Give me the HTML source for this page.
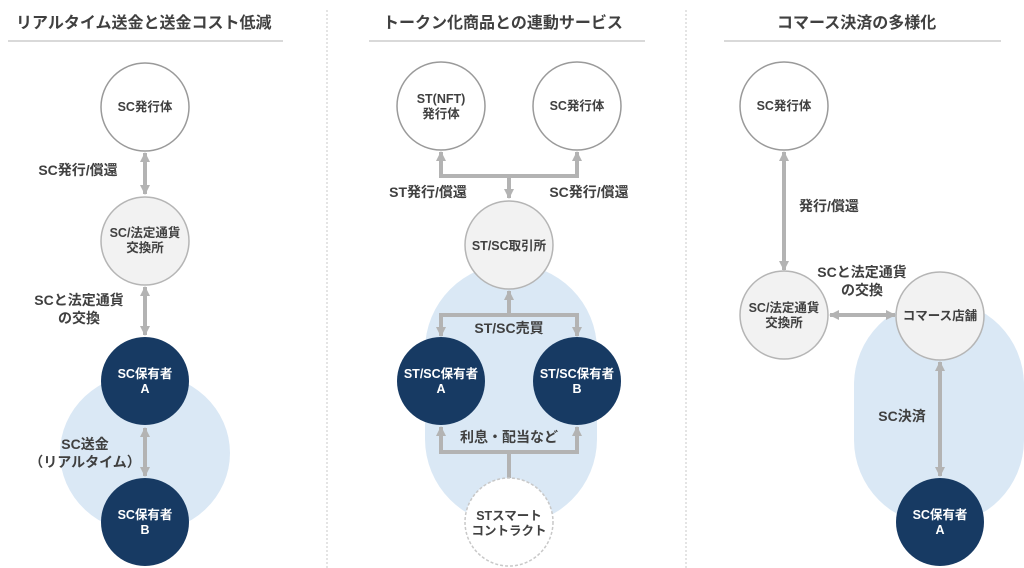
<!DOCTYPE html>
<html><head><meta charset="utf-8"><style>
html,body{margin:0;padding:0;background:#fff;}
svg{display:block;}
text{font-family:"Liberation Sans","Noto Sans CJK JP",sans-serif;}
.t{font-size:16px;font-weight:bold;fill:#404040;}
.l{font-size:14px;font-weight:bold;fill:#404040;}
.n{font-size:12.5px;font-weight:bold;fill:#404040;}
.w{font-size:12.5px;font-weight:bold;fill:#ffffff;}
.ln{stroke:#b3b3b3;stroke-width:4;fill:none;}
</style></head><body>
<svg width="1024" height="568" viewBox="0 0 1024 568" xmlns="http://www.w3.org/2000/svg">
<defs>
<marker id="ah" viewBox="0 0 10 10" refX="9" refY="5" markerWidth="10" markerHeight="10" markerUnits="userSpaceOnUse" orient="auto-start-reverse">
<path d="M0,0 L10,5 L0,10 z" fill="#b3b3b3"/>
</marker>
</defs>
<line x1="327" y1="10" x2="327" y2="568" stroke="#c8c8c8" stroke-width="1" stroke-dasharray="2,2"/>
<line x1="686" y1="10" x2="686" y2="568" stroke="#c8c8c8" stroke-width="1" stroke-dasharray="2,2"/>

<text class="t" x="16" y="28">リアルタイム送金と送金コスト低減</text>
<line x1="8" y1="41" x2="283" y2="41" stroke="#d9d9d9" stroke-width="2"/>
<ellipse cx="145" cy="453" rx="85" ry="80" fill="#dae8f5"/>
<circle cx="145" cy="107" r="44" fill="#fff" stroke="#9a9a9a" stroke-width="1.5"/>
<text class="n" x="145" y="111" text-anchor="middle">SC発行体</text>
<line class="ln" x1="145" y1="153" x2="145" y2="194" marker-start="url(#ah)" marker-end="url(#ah)"/>
<text class="l" x="78" y="175" text-anchor="middle">SC発行/償還</text>
<circle cx="145" cy="241" r="44" fill="#f2f2f2" stroke="#b5b5b5" stroke-width="1.5"/>
<text class="n" x="145" y="237" text-anchor="middle">SC/法定通貨</text>
<text class="n" x="145" y="252" text-anchor="middle">交換所</text>
<line class="ln" x1="145" y1="287" x2="145" y2="335" marker-start="url(#ah)" marker-end="url(#ah)"/>
<text class="l" x="79" y="305" text-anchor="middle">SCと法定通貨</text>
<text class="l" x="79" y="323" text-anchor="middle">の交換</text>
<circle cx="145" cy="381" r="44" fill="#173a63"/>
<text class="w" x="145" y="378" text-anchor="middle">SC保有者</text>
<text class="w" x="145" y="393" text-anchor="middle">A</text>
<line class="ln" x1="145" y1="428" x2="145" y2="476" marker-start="url(#ah)" marker-end="url(#ah)"/>
<text class="l" x="85" y="449" text-anchor="middle">SC送金</text>
<text class="l" x="85" y="467" text-anchor="middle">（リアルタイム）</text>
<circle cx="145" cy="522" r="44" fill="#173a63"/>
<text class="w" x="145" y="519" text-anchor="middle">SC保有者</text>
<text class="w" x="145" y="534" text-anchor="middle">B</text>

<text class="t" x="383" y="28">トークン化商品との連動サービス</text>
<line x1="369" y1="41" x2="645" y2="41" stroke="#d9d9d9" stroke-width="2"/>
<rect x="425" y="264" width="172" height="261" rx="86" fill="#dae8f5"/>
<circle cx="441" cy="106" r="44" fill="#fff" stroke="#9a9a9a" stroke-width="1.5"/>
<text class="n" x="441" y="103" text-anchor="middle">ST(NFT)</text>
<text class="n" x="441" y="118" text-anchor="middle">発行体</text>
<circle cx="577" cy="106" r="44" fill="#fff" stroke="#9a9a9a" stroke-width="1.5"/>
<text class="n" x="577" y="110" text-anchor="middle">SC発行体</text>
<polyline class="ln" points="441,152 441,176 577,176 577,152" marker-start="url(#ah)" marker-end="url(#ah)"/>
<line class="ln" x1="509" y1="176" x2="509" y2="198" marker-end="url(#ah)"/>
<text class="l" x="428" y="197" text-anchor="middle">ST発行/償還</text>
<text class="l" x="589" y="197" text-anchor="middle">SC発行/償還</text>
<circle cx="509" cy="245" r="44" fill="#f2f2f2" stroke="#b5b5b5" stroke-width="1.5"/>
<text class="n" x="509" y="250" text-anchor="middle">ST/SC取引所</text>
<line class="ln" x1="509" y1="315" x2="509" y2="291" marker-end="url(#ah)"/>
<polyline class="ln" points="441,336 441,315 577,315 577,336" marker-start="url(#ah)" marker-end="url(#ah)"/>
<text class="l" x="509" y="333" text-anchor="middle">ST/SC売買</text>
<circle cx="441" cy="381" r="44" fill="#173a63"/>
<text class="w" x="441" y="378" text-anchor="middle">ST/SC保有者</text>
<text class="w" x="441" y="393" text-anchor="middle">A</text>
<circle cx="577" cy="381" r="44" fill="#173a63"/>
<text class="w" x="577" y="378" text-anchor="middle">ST/SC保有者</text>
<text class="w" x="577" y="393" text-anchor="middle">B</text>
<polyline class="ln" points="441,427 441,452 577,452 577,427" marker-start="url(#ah)" marker-end="url(#ah)"/>
<line class="ln" x1="509" y1="452" x2="509" y2="480"/>
<text class="l" x="509" y="442" text-anchor="middle">利息・配当など</text>
<circle cx="509" cy="522" r="44" fill="#fff" stroke="#c8c8c8" stroke-width="1.5" stroke-dasharray="3,2"/>
<text class="n" x="509" y="520" text-anchor="middle">STスマート</text>
<text class="n" x="509" y="535" text-anchor="middle">コントラクト</text>

<text class="t" x="777" y="28">コマース決済の多様化</text>
<line x1="724" y1="41" x2="1001" y2="41" stroke="#d9d9d9" stroke-width="2"/>
<rect x="854" y="300" width="170" height="225" rx="85" fill="#dae8f5"/>
<circle cx="784" cy="106" r="44" fill="#fff" stroke="#9a9a9a" stroke-width="1.5"/>
<text class="n" x="784" y="110" text-anchor="middle">SC発行体</text>
<line class="ln" x1="784" y1="152" x2="784" y2="270" marker-start="url(#ah)" marker-end="url(#ah)"/>
<text class="l" x="829" y="211" text-anchor="middle">発行/償還</text>
<circle cx="784" cy="315" r="44" fill="#f2f2f2" stroke="#b5b5b5" stroke-width="1.5"/>
<text class="n" x="784" y="312" text-anchor="middle">SC/法定通貨</text>
<text class="n" x="784" y="327" text-anchor="middle">交換所</text>
<line class="ln" x1="830" y1="315" x2="895" y2="315" marker-start="url(#ah)" marker-end="url(#ah)"/>
<text class="l" x="862" y="277" text-anchor="middle">SCと法定通貨</text>
<text class="l" x="862" y="295" text-anchor="middle">の交換</text>
<circle cx="940" cy="316" r="44" fill="#f2f2f2" stroke="#b5b5b5" stroke-width="1.5"/>
<text class="n" x="940" y="320" text-anchor="middle">コマース店舗</text>
<line class="ln" x1="940" y1="362" x2="940" y2="476" marker-start="url(#ah)" marker-end="url(#ah)"/>
<text class="l" x="902" y="421" text-anchor="middle">SC決済</text>
<circle cx="940" cy="522" r="44" fill="#173a63"/>
<text class="w" x="940" y="519" text-anchor="middle">SC保有者</text>
<text class="w" x="940" y="534" text-anchor="middle">A</text>
</svg>
</body></html>
